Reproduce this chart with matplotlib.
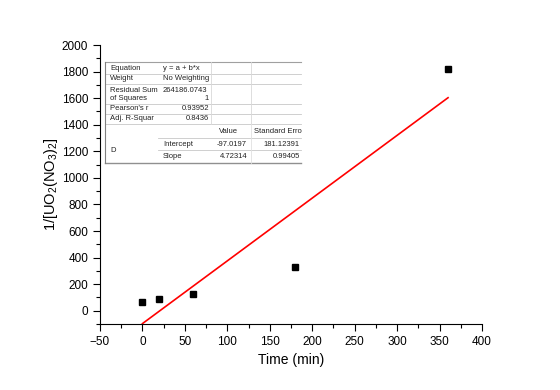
import matplotlib
matplotlib.use("Agg")
import matplotlib.pyplot as plt
from matplotlib.lines import Line2D
from matplotlib.ticker import MultipleLocator
import numpy as np

plt.rcParams['font.family'] = ['Liberation Sans', 'DejaVu Sans']
plt.rcParams['mathtext.fontset'] = 'custom'
plt.rcParams['mathtext.rm'] = 'Liberation Sans'
plt.rcParams['mathtext.it'] = 'Liberation Sans'

# data
time_min = [0, 20, 60, 180, 360]
inv_conc = [68, 85, 128, 330, 1820]
intercept = -97.0197
slope = 4.72314
fit_x = [0, 360]

x_ticks = [-50, 0, 50, 100, 150, 200, 250, 300, 350, 400]
y_ticks = [0, 200, 400, 600, 800, 1000, 1200, 1400, 1600, 1800, 2000]

table_rows = [
    ("Equation", "y = a + b*x"),
    ("Weight", "No Weighting"),
    ("Residual Sum", "264186.0743"),
    ("of Squares", "1"),
    ("Pearson's r", "0.93952"),
    ("Adj. R-Squar", "0.8436"),
]
param_header = ["Value", "Standard Erro"]
param_names = ["Intercept", "Slope"]
param_values = ["-97.0197", "4.72314"]
param_errors = ["181.12391", "0.99405"]
group_label = "D"

W, H = 560, 390
fig = plt.figure(figsize=(W / 100, H / 100), dpi=100)
ax = fig.add_axes([100 / W, 1 - 324 / H, 382 / W, (324 - 45) / H])

ax.plot(time_min, inv_conc, 's', color='black', markersize=5, zorder=3)
fx = np.array(fit_x, dtype=float)
ax.plot(fx, intercept + slope * fx, color='red', lw=1.2, zorder=2)

ax.set_xlim(-50, 400)
ax.set_ylim(-100, 2000)
ax.set_xticks(x_ticks)
ax.set_yticks(y_ticks)
ax.xaxis.set_minor_locator(MultipleLocator(25))
ax.yaxis.set_minor_locator(MultipleLocator(100))
ax.spines['top'].set_visible(False)
ax.spines['right'].set_visible(False)
ax.tick_params(which='major', direction='out', length=5, width=0.8, labelsize=8.5)
ax.tick_params(which='minor', direction='out', length=3, width=0.8)
ax.set_xlabel("Time (min)", fontsize=10)
ax.set_ylabel(r"1/[UO$_2$(NO$_3$)$_2$]", fontsize=10.5, labelpad=1)

# table drawn in pixel coordinates
def px(x, y):
    return x / W, 1 - y / H

def hline(y, x0, x1, color='#c8c8c8', lw=0.6):
    (a, b), (c, d) = px(x0, y), px(x1, y)
    fig.add_artist(Line2D([a, c], [b, d], color=color, lw=lw, transform=fig.transFigure))

def vline(x, y0, y1, color='#d8d8d8', lw=0.6):
    (a, b), (c, d) = px(x, y0), px(x, y1)
    fig.add_artist(Line2D([a, c], [b, d], color=color, lw=lw, transform=fig.transFigure))

def txt(x, y, s, ha='left'):
    a, b = px(x, y)
    fig.text(a, b, s, ha=ha, va='center', fontsize=5.5, color='#222222')

L, R = 105, 301
c1, c2, c3 = 158, 211, 251
hline(62, L, R, color='#a0a0a0', lw=0.8)
for y in [74, 84, 104, 114, 124]:
    hline(y, L, R)
for y in [138, 150]:
    hline(y, c1, R)
hline(163, L, R, color='#909090', lw=1.0)
vline(L, 62, 163, color='#808080', lw=0.8)
for x in [c2, c3]:
    vline(x, 62, 124)
vline(c3, 124, 163, color='#e0e0e0')

row_y = [68, 79, 90.5, 98.5, 109, 119]
for (lab, val), y in zip(table_rows, row_y):
    txt(110, y, lab)
    if val in ("y = a + b*x", "No Weighting", "264186.0743"):
        txt(163, y, val)
    else:
        txt(209, y, val, ha='right')

txt(219, 131.5, param_header[0])
txt(254, 131.5, param_header[1])
for nm, v, e, y in zip(param_names, param_values, param_errors, [144, 156.5]):
    txt(163, y, nm)
    txt(247, y, v, ha='right')
    txt(300, y, e, ha='right')
txt(110, 151, group_label)

fig.savefig("out.png", dpi=100)
